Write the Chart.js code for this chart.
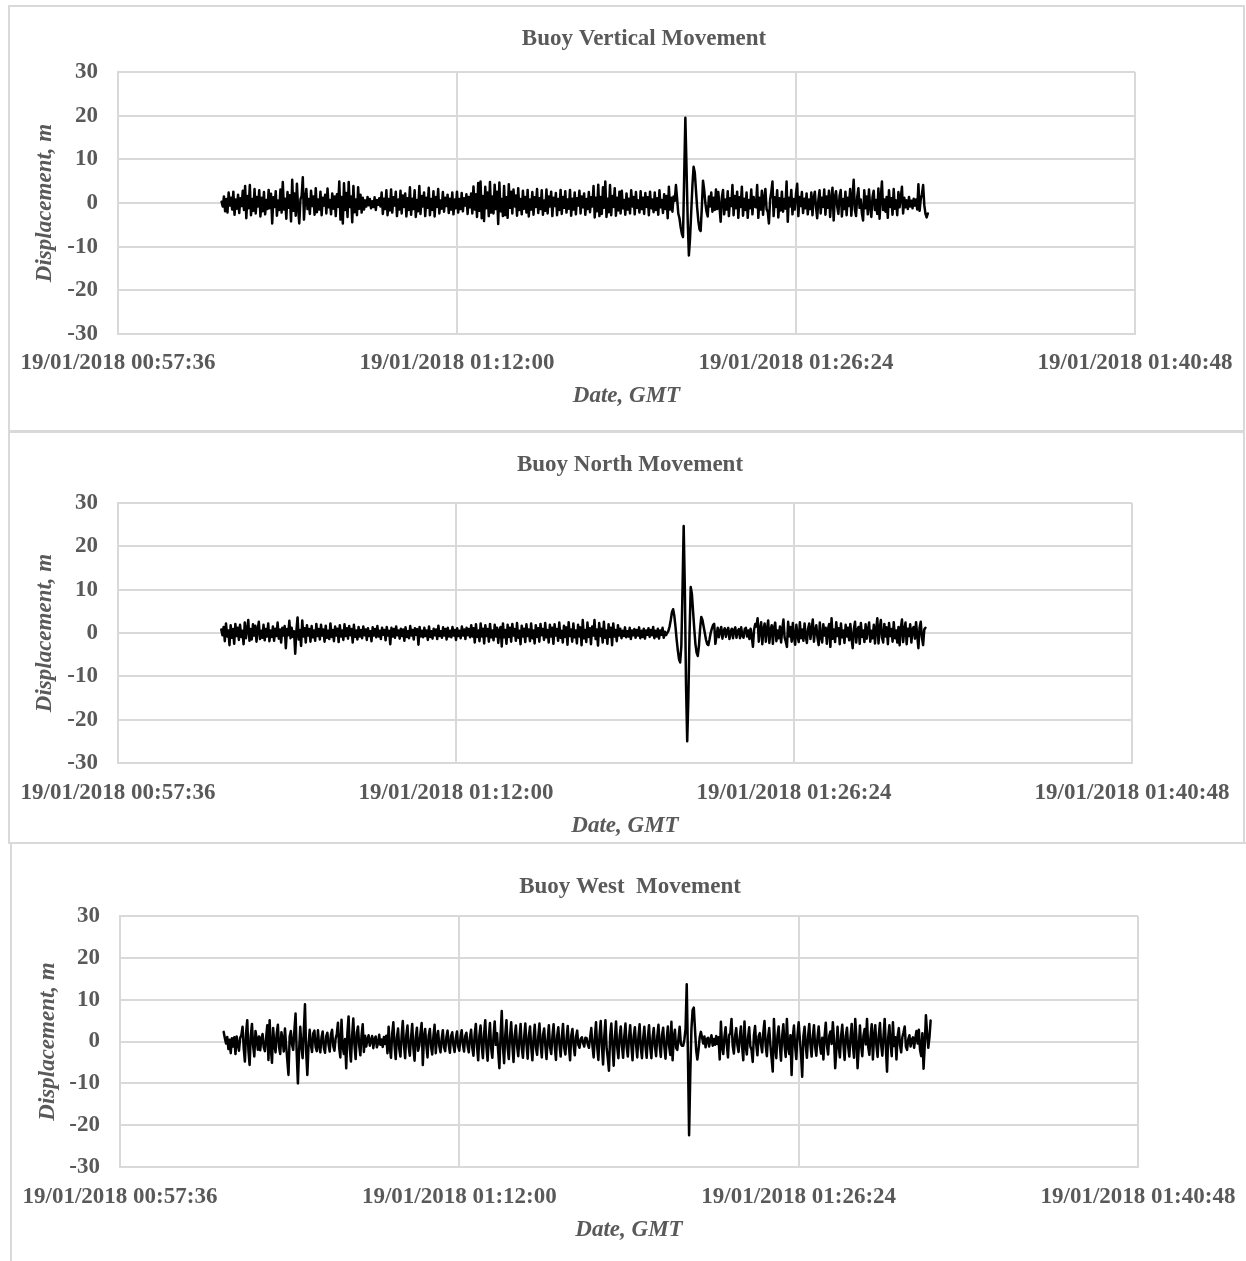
<!DOCTYPE html>
<html>
<head>
<meta charset="utf-8">
<script src="https://cdn.jsdelivr.net/npm/chart.js@4.4.1/dist/chart.umd.min.js"></script>
<style>
html,body{margin:0;padding:0;background:#fff;overflow:hidden;width:1246px;height:1261px;}
.box{position:absolute;border:2px solid #d9d9d9;box-sizing:border-box;}
canvas{position:absolute;}
</style>
</head>
<body>
<div class="box" style="left:8px;top:5px;width:1237px;height:427px"></div>
<div class="box" style="left:8px;top:431px;width:1237px;height:413px"></div>
<div class="box" style="left:10px;top:842px;width:1250px;height:440px"></div>
<canvas id="c1" width="1270" height="427" style="left:9px;top:5px;width:1270px;height:427px"></canvas>
<canvas id="c2" width="1242" height="411" style="left:9px;top:432px;width:1242px;height:411px"></canvas>
<canvas id="c3" width="1240" height="418" style="left:10px;top:843px;width:1240px;height:418px"></canvas>
<script>
// ---- data ----
const chartTitles = ['Buoy Vertical Movement', 'Buoy North Movement', 'Buoy West  Movement'];
const xAxisTitle = 'Date, GMT';
const yAxisTitle = 'Displacement, m';
const xTickLabels = ['19/01/2018 00:57:36', '19/01/2018 01:12:00', '19/01/2018 01:26:24', '19/01/2018 01:40:48'];
const xAxisStartSec = 3456;   // 00:57:36
const xAxisStepSec = 864;     // 14:24
const xAxisEndSec = 6048;     // 01:40:48
const sampleStartSec = 3720;  // 01:02:00
const sampleStepSec = 3;

const verticalValues = [
 0.3, -0.8, 1.5, -1.9, 0.9, -2.2, 2.4, -0.6, 1.2, -1.5, 2.6, -2.7, 0.8, -1.3, 1.9, -2.3, 1.1, -0.7, 2.8, -1.6,
 3.9, -3.5, 1.6, -1.2, 4.1, -2.8, 0.9, -1.8, 3.2, -2.4, 1.4, -0.8, 2.9, -3.1, 1.2, -1.9, 2.5, -2.6, 0.7, -1.4,
 3.0, -1.2, 2.1, -4.7, 1.3, -0.9, 2.7, -2.9, 0.6, -1.6, 3.1, -2.2, 4.8, -1.5, 1.0, -3.6, 2.5, -1.1, 1.8, -4.2,
 5.3, -1.8, 2.2, -2.9, 4.4, -1.2, -4.7, 0.8, 1.6, 5.9, -3.8, 1.0, 3.2, -1.4, 0.9, -2.5, 2.8, -0.7, 1.5, -2.7,
 3.4, -2.1, 0.8, -1.5, 2.6, -2.8, 1.2, -0.6, 1.9, -2.4, 3.3, -1.0, 0.7, -2.6, 2.2, -1.3, 1.5, -3.0, 2.0, -0.9,
 4.9, -3.8, 1.4, -4.7, 4.5, -1.6, 2.3, -3.2, 4.8, -0.9, 1.5, -4.4, 3.9, -2.1, 0.8, -2.8, 3.6, -1.3, 1.9, -2.2,
 1.2, -1.5, 0.6, -0.8, 1.4, -0.5, 0.9, -1.2, 0.4, -0.9, 1.3, -1.6, 0.7, -0.4, 1.1, -0.8, 2.4, -2.5, 1.0, -1.4,
 2.9, -2.8, 0.9, -1.7, 3.1, -2.2, 1.3, -0.6, 2.6, -3.0, 0.8, -1.5, 2.8, -2.4, 1.7, -0.9, 2.2, -3.1, 1.1, -1.6,
 3.6, -2.7, 1.0, -1.4, 2.9, -3.2, 0.7, -1.9, 3.9, -2.5, 1.6, -0.8, 2.4, -3.0, 1.2, -1.1, 3.5, -2.8, 0.9, -1.6,
 2.7, -3.1, 1.4, -0.9, 3.2, -2.4, 0.6, -1.3, 2.5, -2.0, 1.2, -0.7, 1.9, -2.3, 1.0, -1.5, 2.4, -2.6, 0.8, -1.2,
 2.6, -2.2, 0.9, -1.4, 2.3, -1.9, 1.1, -0.6, 2.0, -2.5, 1.4, -1.0, 2.2, -2.4, 3.8, -1.5, 2.0, -3.2, 4.6, -1.8,
 4.9, -3.5, 1.6, -4.1, 3.7, -1.2, 2.4, -3.0, 4.8, -2.2, 1.5, -2.4, 4.2, -1.4, 2.6, -4.8, 4.7, -1.9, 0.9, -3.0,
 3.9, -2.8, 1.3, -3.4, 4.3, -1.1, 2.6, -2.4, 3.1, -0.8, 1.7, -2.9, 3.4, -1.6, 0.9, -2.6, 2.8, -1.3, 1.4, -2.2,
 3.0, -3.1, 0.8, -1.5, 2.5, -2.7, 1.3, -0.9, 3.2, -2.3, 1.1, -1.4, 2.9, -2.7, 0.6, -1.8, 3.1, -2.4, 1.5, -0.8,
 2.6, -3.0, 1.2, -0.7, 2.3, -2.8, 0.9, -1.6, 3.0, -2.5, 1.4, -1.1, 2.7, -2.2, 0.8, -1.3, 3.0, -2.9, 1.0, -1.5,
 2.4, -2.6, 1.1, -0.6, 2.8, -2.4, 1.5, -1.0, 2.2, -2.7, 0.9, -1.4, 2.5, -2.1, 1.3, -0.8, 3.9, -3.3, 1.2, -1.9,
 4.2, -3.0, 1.4, -2.5, 3.6, -1.1, 4.9, -3.2, 1.0, -2.1, 4.1, -2.8, 1.6, -0.9, 3.4, -2.9, 1.2, -1.7, 2.6, -2.4,
 2.8, -1.2, 0.7, -2.7, 2.2, -1.5, 1.0, -2.4, 2.9, -0.8, 1.4, -2.6, 2.5, -1.1, 0.6, -2.2, 2.7, -1.4, 1.2, -2.5,
 2.3, -0.9, 1.3, -2.8, 2.6, -1.2, 0.8, -2.1, 2.4, -1.6, 1.1, -2.7, 2.9, -1.0, 0.7, -2.3, 2.0, -1.4, 1.6, -3.5,
 3.7, -1.5, 1.2, -2.0, 1.5, 0.5, 4.1, 1.0, -2.4, -3.5, -5.5, -7.0, -7.8, 6.0, 19.5, 8.0, -4.0, -12.0, -8.0, -2.0,
 4.0, 8.3, 7.0, 3.0, -1.0, -4.0, -6.0, -6.4, -1.0, 5.1, 3.0, 0.0, -2.0, -3.1, 1.5, -0.8, 2.4, -2.0, 1.2, -1.6,
 3.1, -1.4, 2.5, -0.9, -4.3, 1.2, 3.0, -2.6, 0.8, -1.5, 2.7, -3.0, 1.1, -0.7, 4.1, -2.8, 1.6, -1.2, 2.6, -3.4,
 1.3, -0.9, 3.7, -2.9, 1.0, -1.6, 2.4, -3.4, 0.7, -1.2, 3.1, -2.6, 1.4, -0.8, -1.0, 4.1, -3.4, 1.2, -1.5, 2.8,
 -2.7, 1.0, 3.2, -1.4, -2.0, -4.7, 0.8, 2.5, 4.9, -3.0, 1.3, -0.9, 2.9, -3.3, 1.1, -1.7, 2.6, -2.0, 0.9, -1.3,
 4.9, -4.3, 1.2, -0.8, 3.0, -2.6, 0.9, -1.5, 2.1, 4.4, -3.0, 1.4, -0.7, 2.5, -2.3, 1.0, -1.2, 2.2, -2.6, 0.8,
 -1.4, 2.4, -2.8, 1.1, 2.6, -1.0, -3.5, 0.7, 2.9, -2.4, 1.2, -0.9, 3.1, -2.7, 1.5, -1.1, 2.8, -3.2, 0.8, 3.5,
 -4.0, 1.3, 2.7, -0.8, -2.5, 1.6, 3.0, -3.1, 0.9, -1.4, 2.6, -2.8, 1.2, -0.7, 3.2, -2.9, 1.0, 5.3, -1.5, -3.0,
 1.4, 3.4, -1.1, 0.8, -2.4, -4.0, 2.9, -1.2, 1.5, -2.6, 3.1, -0.9, -3.2, 1.3, 2.8, -1.6, 0.7, -2.5, 3.3, -3.6,
 1.2, 4.9, -1.6, 0.8, -2.0, 1.4, -3.4, 2.9, -0.9, 1.1, -2.7, 3.2, -1.3, 0.6, -2.8, 2.5, -1.0, 1.2, 3.7, -2.4,
 1.2, -1.0, 0.6, -1.4, 1.4, -0.8, 0.5, -1.2, 1.0, -0.6, 0.8, -1.5, 4.3, -1.8, 0.9, 2.0, 4.1, -0.5, -2.5, -3.3,
 -2.4
];

const northValues = [
 0.8, -0.5, 1.4, -1.9, 2.2, -0.8, 0.6, -2.8, 1.8, -1.1, 0.9, -2.5, 2.1, -0.7, 1.2, -1.6, 1.9, -0.9, 0.5, -2.6,
 2.4, -1.2, 0.7, 3.0, -1.8, 0.9, -1.5, 2.0, -0.6, 1.7, -2.0, 0.8, 2.6, -1.4, 0.5, -1.1, 1.9, -1.7, 0.9, -0.8,
 2.2, -1.9, 0.6, -0.9, 1.5, -1.8, 1.0, -0.7, 2.4, -1.3, 0.8, -2.2, 1.2, -0.6, 1.6, -3.5, 0.9, -0.5, 2.8, -1.2,
 1.2, -0.9, 0.4, -4.8, 0.5, 3.6, -1.5, 0.7, -3.0, 2.9, -0.8, 1.1, -2.2, 1.8, -0.6, 0.9, -2.0, 1.6, -1.0, 0.6,
 -1.8, 2.1, -0.7, 0.9, -1.5, 1.9, -0.6, 0.8, -2.0, 1.7, -1.1, 0.5, -1.4, 2.2, -0.9, 0.7, -1.9, 1.5, -0.6, 1.0,
 -2.1, 1.8, -0.8, 0.6, -1.6, 2.0, -0.7, 1.1, -1.3, 1.6, -0.5, 0.9, -2.2, 1.9, -0.9, 0.6, -1.5, 1.4, -0.8, 0.7,
 -1.2, 1.5, -0.5, 0.8, -1.6, 1.1, -0.7, 0.4, -1.9, 1.3, -0.6, 0.9, -1.0, 1.6, -0.8, 0.5, -1.4, 1.2, -0.4, 0.7,
 -1.7, 1.4, -0.6, 0.5, -2.6, 1.2, -0.8, 0.9, -1.1, 1.5, -0.5, 0.6, -1.3, 1.0, -0.7, 0.8, -1.8, 1.3, -0.9, 0.4,
 -1.2, 1.6, -0.6, 0.7, -1.5, 1.1, -0.4, 0.9, -2.7, 1.4, -0.8, 0.5, -1.0, 1.2, -0.7, 0.6, -1.6, 1.5, -0.9, 0.4,
 -1.3, 1.0, -0.5, 0.8, -1.4, 1.7, -0.7, 0.4, -1.1, 1.3, -0.6, 0.9, -1.5, 1.2, -0.8, 0.5, -1.0, 1.4, -0.6, 0.7,
 -1.6, 1.1, -0.7, 0.5, -1.2, 1.5, -0.6, 0.8, -1.4, 1.2, -0.5, 0.9, -1.0, 1.8, -0.8, 1.1, -2.2, 2.0, -0.9, 0.6,
 -1.9, 2.2, -0.8, 1.0, -2.4, 1.8, -0.7, 0.9, -2.0, 2.1, -1.0, 0.6, -1.7, 1.9, -0.8, 1.2, -2.3, 0.6, 1.4, -3.1,
 2.2, -1.0, 0.7, -2.5, 1.9, -0.9, 1.2, -2.0, 2.1, -0.6, 0.9, -1.8, 2.3, -1.1, 0.5, -2.6, 1.7, -0.8, 1.0, -2.1,
 2.0, -0.7, 0.8, -1.9, 2.2, -1.2, 0.6, -2.4, 1.8, -0.9, 1.1, -2.0, 2.1, -0.5, 0.9, -1.6, 2.3, -1.0, 0.7, -2.2,
 1.9, -0.8, 1.2, -2.5, 2.0, -0.6, 0.9, -1.8, 2.4, -1.1, 0.5, -2.2, 1.7, -0.9, 1.3, -2.7, 2.5, -0.7, 0.8, -2.0,
 2.2, -1.0, 0.6, -2.4, 1.9, -0.8, 1.3, -2.8, 3.0, -1.2, 0.7, -2.1, 2.4, -0.9, 1.1, -2.6, 1.5, -0.6, 3.0, -1.4,
 0.8, -2.9, 2.3, -0.7, 1.0, -2.2, 2.6, -1.1, 0.6, -2.5, 2.0, -0.9, 1.2, -2.8, 2.2, -0.8, 0.7, -1.9, 1.8, -0.6,
 1.0, -1.2, 0.5, -0.7, 1.3, -1.0, 0.4, -0.8, 1.2, -1.4, 0.6, -0.5, 0.9, -1.1, 0.7, -0.6, 1.3, -1.2, 0.5, -0.9,
 1.0, -1.3, 0.6, -0.4, 1.1, -0.9, 0.7, -0.5, 1.4, -1.2, 0.5, -0.8, 1.0, -1.3, 0.6, -0.4, 1.2, -1.1, 0.3, -0.5,
 0.0, 0.5, 1.5, 3.0, 4.8, 5.5, 4.0, 1.5, -1.5, -4.0, -6.0, -6.8, -3.0, 10.0, 24.7, 10.0, -12.0, -25.0, -15.0, 0.0,
 10.6, 9.0, 5.0, 1.0, -2.5, -4.5, -5.3, -3.0, 1.0, 3.7, 3.0, 1.5, 0.0, -1.5, -2.5, -2.8, -1.5, 0.0, 1.0, 1.8,
 2.1, -2.5, -0.6, 1.2, -1.0, 0.5, 1.4, -1.3, 0.4, 1.1, -0.9, 0.6, 1.2, -1.4, 0.3, 1.0, -1.2, 0.7, 1.3, -1.1,
 0.5, 0.9, -1.2, 1.3, -0.6, -1.1, 0.9, 1.2, -0.8, 0.6, -1.4, 1.0, -0.7, -3.2, 0.8, 2.1, 1.5, 3.4, -2.0, 0.9,
 2.5, -2.6, 0.8, 2.2, -2.0, 1.0, 2.9, -2.3, 0.7, 1.8, -2.5, 1.2, 2.4, -1.9, 0.6, -1.2, 1.5, -2.2, 0.9, 3.1,
 -1.0, -2.0, -3.2, 2.6, -0.8, 1.4, -2.0, 2.3, -0.9, -2.7, 1.9, -0.6, -2.1, 2.5, -1.2, 0.8, -1.8, 2.2, -0.7, -2.3,
 1.0, 2.2, -1.4, 0.8, 3.1, -2.0, 0.6, 1.8, -1.1, -2.8, 2.4, -0.9, -2.2, 2.0, -0.6, 1.2, -2.5, 0.9, 2.1, -3.2,
 3.4, -1.3, 0.8, -2.1, 2.5, -0.7, 1.1, -2.6, 2.2, -1.0, 0.6, -2.3, 1.9, -0.8, 1.2, -1.7, 2.1, -1.1, -3.5, 0.9,
 2.6, -2.2, 0.7, 1.4, -2.5, 2.3, -0.9, 0.6, -2.1, 2.0, -1.3, 0.8, 2.4, -2.0, 0.5, -1.2, 1.9, -2.4, 0.9, 3.4,
 -2.4, 1.0, 3.0, -1.1, -2.2, 2.1, -0.8, 1.3, -2.6, 2.3, -0.7, 0.9, -2.0, 2.5, -1.2, 0.6, -2.2, 1.4, -2.8, 1.1,
 3.1, -2.1, 0.8, 2.4, -2.6, 1.0, -0.7, 2.0, -2.2, 0.9, 1.4, -1.3, 2.5, -0.6, -3.5, 1.2, 2.6, -1.0, -2.8, 0.8,
 1.2
];

const westValues = [
 2.3, 0.8, -0.5, 1.1, -1.8, 0.4, -2.8, 0.8, -1.2, 1.0, -3.0, 1.2, -0.6, -2.2, 0.9, 1.5, 3.5, -1.6, -4.8, 2.0,
 5.1, -2.2, -5.6, 1.4, 4.2, -1.1, -3.6, 2.5, 0.6, -2.0, 1.2, -2.1, 0.7, 1.8, -1.4, -2.3, 0.9, 3.9, -4.4, 5.1,
 -1.6, -5.1, 3.2, -0.8, -2.6, 1.9, 4.0, -1.4, -3.0, 2.2, 0.6, -2.4, 3.1, -0.9, -4.5, -8.0, 1.2, 2.5, -0.7, -2.0,
 2.6, 6.7, -3.0, -10.0, -2.0, 3.5, -1.2, -4.0, 2.5, 8.9, -2.5, -8.0, -1.0, 2.8, -0.8, -2.5, 1.9, 2.6, -1.3, -2.3,
 2.7, -1.0, -2.6, 0.9, 2.4, -1.5, -2.7, 1.2, 2.1, -0.8, -2.4, 1.6, 2.8, -1.1, -2.2, 0.7, 1.8, 4.5, -1.4, -3.8,
 5.2, -1.2, -3.0, 0.6, -6.4, 2.0, 6.0, -1.5, -4.8, 1.3, 5.5, -0.9, -4.2, 2.1, 3.6, -1.0, -3.3, 1.4, 4.1, -2.5,
 1.4, -1.2, 0.5, 1.5, -1.0, 0.3, 1.3, -1.6, 0.6, 1.2, -1.4, -0.4, 1.6, -0.8, 0.5, -1.3, 1.1, -0.6, 1.4, -2.8,
 3.5, -1.4, -3.9, 1.8, 4.6, -1.0, -4.2, 0.9, 3.1, -1.7, -3.6, 1.2, 4.9, -0.8, -4.0, 1.5, 3.8, -1.2, -3.4, 0.8,
 4.2, -1.6, -4.6, 1.0, 3.3, -2.2, -1.0, 2.0, 4.4, -5.6, 1.1, 3.0, -0.9, -3.8, 1.4, 3.0, -1.2, -3.1, 1.3, 4.0,
 -2.8, 0.9, 2.5, -1.1, -2.6, 0.6, 2.7, -1.4, -2.3, 1.0, 2.6, -0.8, -2.7, 1.3, 2.2, -0.9, -2.5, 0.7, 2.4, -1.2,
 -2.2, 1.0, 2.7, -0.7, -2.4, 1.3, 2.1, -1.1, -2.6, 0.9, 2.8, -1.5, -3.4, 1.6, 4.2, -1.2, -4.5, 1.4, 3.8, -1.0,
 -4.0, 1.8, 5.1, -1.3, -4.6, 0.9, 4.4, -1.6, -3.9, 1.2, 4.8, -0.8, 2.0, -2.5, -6.4, 1.5, 7.3, -1.2, -5.2, 1.6,
 5.1, -1.5, -4.2, 1.2, 4.6, -0.8, -4.9, 1.4, 3.8, -1.1, -3.5, 0.9, 4.2, -1.6, -3.9, 1.0, 4.3, -0.7, -4.1, 1.3,
 3.6, -1.2, -4.5, 0.8, 4.0, -1.5, -3.2, 1.1, 4.3, -0.9, -3.8, 1.5, 3.1, -1.0, -4.2, 0.6, 3.9, -1.4, -3.0, 1.2,
 4.1, -1.1, -4.4, 1.3, 3.4, -0.8, -3.6, 1.0, 4.2, -1.5, -3.1, 0.7, 3.7, -1.2, -4.5, 1.4, 3.0, -0.9, -3.3, 1.1,
 2.6, -0.8, -1.5, 0.6, 1.0, -0.4, -1.2, 0.9, 0.8, -0.7, -1.5, 1.0, 3.2, -1.1, -3.8, 0.9, 4.6, -1.3, -4.4, 1.5,
 4.9, -1.0, -5.5, 1.2, 5.1, -1.6, -4.0, -7.0, 1.4, 4.3, -1.2, -5.8, 0.8, 4.8, -1.4, -4.0, 1.1, 3.6, -0.9, -3.9,
 1.2, 4.3, -1.3, -3.6, 0.9, 3.9, -1.0, -4.5, 1.3, 3.4, -0.8, -3.8, 1.1, 4.1, -1.5, -4.0, 0.7, 3.5, -1.2, -3.9,
 1.0, 3.9, -1.4, -4.0, 0.8, 3.2, -1.1, -3.5, 1.2, 4.0, -0.9, -3.7, 1.4, 3.3, -1.3, -4.1, 0.6, 3.6, -1.0, -3.2,
 4.7, -4.5, 1.0, 2.8, -1.5, -2.0, 0.8, 3.5, -0.6, -1.0, -1.0, 0.5, 3.0, 13.7, -3.0, -22.4, -8.0, 3.0, 7.5, 8.1,
 3.0, -2.0, -4.3, -2.0, 1.0, 2.3, 1.0, -0.5, 1.2, -1.4, 0.6, 0.9, -1.2, 0.4, 1.5, -1.0, 0.6, -0.8, 1.3, -0.6,
 1.0, -4.3, 4.7, -1.2, -3.0, 1.1, 3.4, -0.8, -3.8, 1.5, 2.0, 5.4, -1.0, -2.9, 1.2, 3.2, -0.9, -2.5, 1.0, 3.6,
 -1.3, -4.5, 4.8, -1.0, -3.1, 0.9, 3.4, -1.2, -2.0, -4.9, 1.4, 3.7, -0.8, -3.3, 1.2, 2.0, -0.6, -2.6, 2.2, 4.9,
 -1.0, -3.5, 1.0, 3.2, -0.8, -4.0, -7.2, 5.4, -1.2, -4.0, 1.3, 3.6, -0.9, -4.6, 1.2, 4.1, -1.0, -3.7, 5.4, -1.2,
 -3.0, 1.5, -8.0, 1.0, 3.8, -1.2, -4.2, 1.4, 4.6, 0.6, -3.0, -8.4, 1.2, 3.5, -1.0, -3.9, 1.3, 4.2, -0.8, -3.6,
 1.1, 3.9, -1.3, -3.4, 1.0, 3.6, -0.8, -2.9, 0.9, -4.3, 1.2, 4.5, -1.0, -3.1, 1.4, 2.4, -0.6, 4.6, 0.5, -6.4,
 -2.0, 3.5, -1.1, -3.8, 1.2, 4.0, -0.8, -4.4, 1.3, 3.3, -1.2, -3.6, 1.0, 4.2, -0.9, -3.9, 5.4, 1.0, -6.4, -1.5,
 3.8, -1.0, -3.5, 1.4, 3.0, -0.7, 5.4, -1.3, -3.2, 1.1, 4.1, -4.3, 1.2, 3.9, -1.0, -3.7, 1.5, 4.4, -0.8, -3.4,
 1.2, 5.4, -1.5, -7.2, 1.0, 3.9, -0.6, -3.5, 4.6, -1.1, 1.0, -4.3, 1.3, 3.2, -0.9, -2.6, 1.0, 2.2, 3.6, -1.2,
 -2.0, 0.5, 1.5, -1.2, 0.4, 1.0, -1.5, 0.8, 2.5, -0.5, 2.8, -2.0, -3.5, 2.0, -6.5, -1.0, 6.3, 2.0, -1.5, 1.0,
 5.0
];

// ---- drawing ----
const FONT = "'Liberation Serif', 'Times New Roman', Times, serif";
const TEXT = '#595959';
const GRID = '#d9d9d9';

function toPoints(values) {
  return values.map((v, i) => ({ x: sampleStartSec + i * sampleStepSec, y: v }));
}

function makeChart(id, title, values, L) {
  new Chart(document.getElementById(id), {
    type: 'line',
    data: {
      datasets: [{
        data: toPoints(values),
        borderColor: '#000000',
        borderWidth: 2.5,
        pointRadius: 0,
        tension: 0,
        fill: false,
        borderJoinStyle: 'round',
        borderCapStyle: 'round',
        yAxisID: 'y'
      }]
    },
    options: {
      responsive: false,
      animation: false,
      devicePixelRatio: 1,
      events: [],
      layout: { padding: { left: L.padL, right: L.padR, top: 0, bottom: L.padB } },
      plugins: {
        legend: { display: false },
        tooltip: { enabled: false },
        title: {
          display: true, text: title, color: TEXT,
          font: { family: FONT, size: 23, weight: 'bold', lineHeight: 1.2 },
          padding: { top: L.tT, bottom: L.tB }
        }
      },
      scales: {
        x: {
          type: 'linear', min: xAxisStartSec, max: xAxisEndSec,
          ticks: {
            stepSize: xAxisStepSec, autoSkip: false, maxRotation: 0, minRotation: 0,
            color: TEXT, padding: 0,
            font: { family: FONT, size: 23, weight: 'bold', lineHeight: 1.2 },
            callback: (v) => xTickLabels[Math.round((v - xAxisStartSec) / xAxisStepSec)]
          },
          grid: { color: GRID, lineWidth: 2, drawTicks: true, tickLength: L.xPad, tickColor: 'rgba(0,0,0,0)' },
          border: { color: GRID, width: 2 },
          title: {
            display: true, text: xAxisTitle, color: TEXT,
            font: { family: FONT, size: 23, weight: 'bold', style: 'italic', lineHeight: 1.2 },
            padding: { top: 4, bottom: 2 }
          },
          afterFit: (s) => { s.height = L.xH; }
        },
        y: {
          position: 'left',
          min: -30, max: 30,
          ticks: {
            stepSize: 10, color: TEXT, padding: 20,
            font: { family: FONT, size: 23, weight: 'bold', lineHeight: 1.2 }
          },
          grid: { color: GRID, lineWidth: 2, drawTicks: false },
          border: { color: GRID, width: 2 },
          title: {
            display: true, text: yAxisTitle, color: TEXT,
            font: { family: FONT, size: 23, weight: 'bold', style: 'italic', lineHeight: 1.2 },
            padding: { top: 4, bottom: 4 }
          },
          afterFit: (s) => { s.width = L.yW; }
        },
        yRight: {
          position: 'right',
          min: 0, max: 1,
          ticks: { display: false },
          grid: { display: false, drawTicks: false },
          border: { display: false },
          title: { display: false },
          afterFit: (s) => { s.width = L.rW; }
        }
      }
    }
  });
}

makeChart('c1', chartTitles[0], verticalValues,
  { padL: 18.2, padR: 18.2, rW: 125.8, padB: 20.2, yW: 90.8, xH: 77.8, tT: 20.2, tB: 19.2, xPad: 15 });
makeChart('c2', chartTitles[1], northValues,
  { padL: 18.2, padR: 18.2, rW: 100.8, padB: 1.2, yW: 90.8, xH: 78.8, tT: 19.2, tB: 24.2, xPad: 16.2 });
makeChart('c3', chartTitles[2], westValues,
  { padL: 19.9, padR: 19.9, rW: 92.1, padB: 15.2, yW: 90.1, xH: 78.8, tT: 30.2, tB: 15.2, xPad: 16.2 });
</script>
</body>
</html>
